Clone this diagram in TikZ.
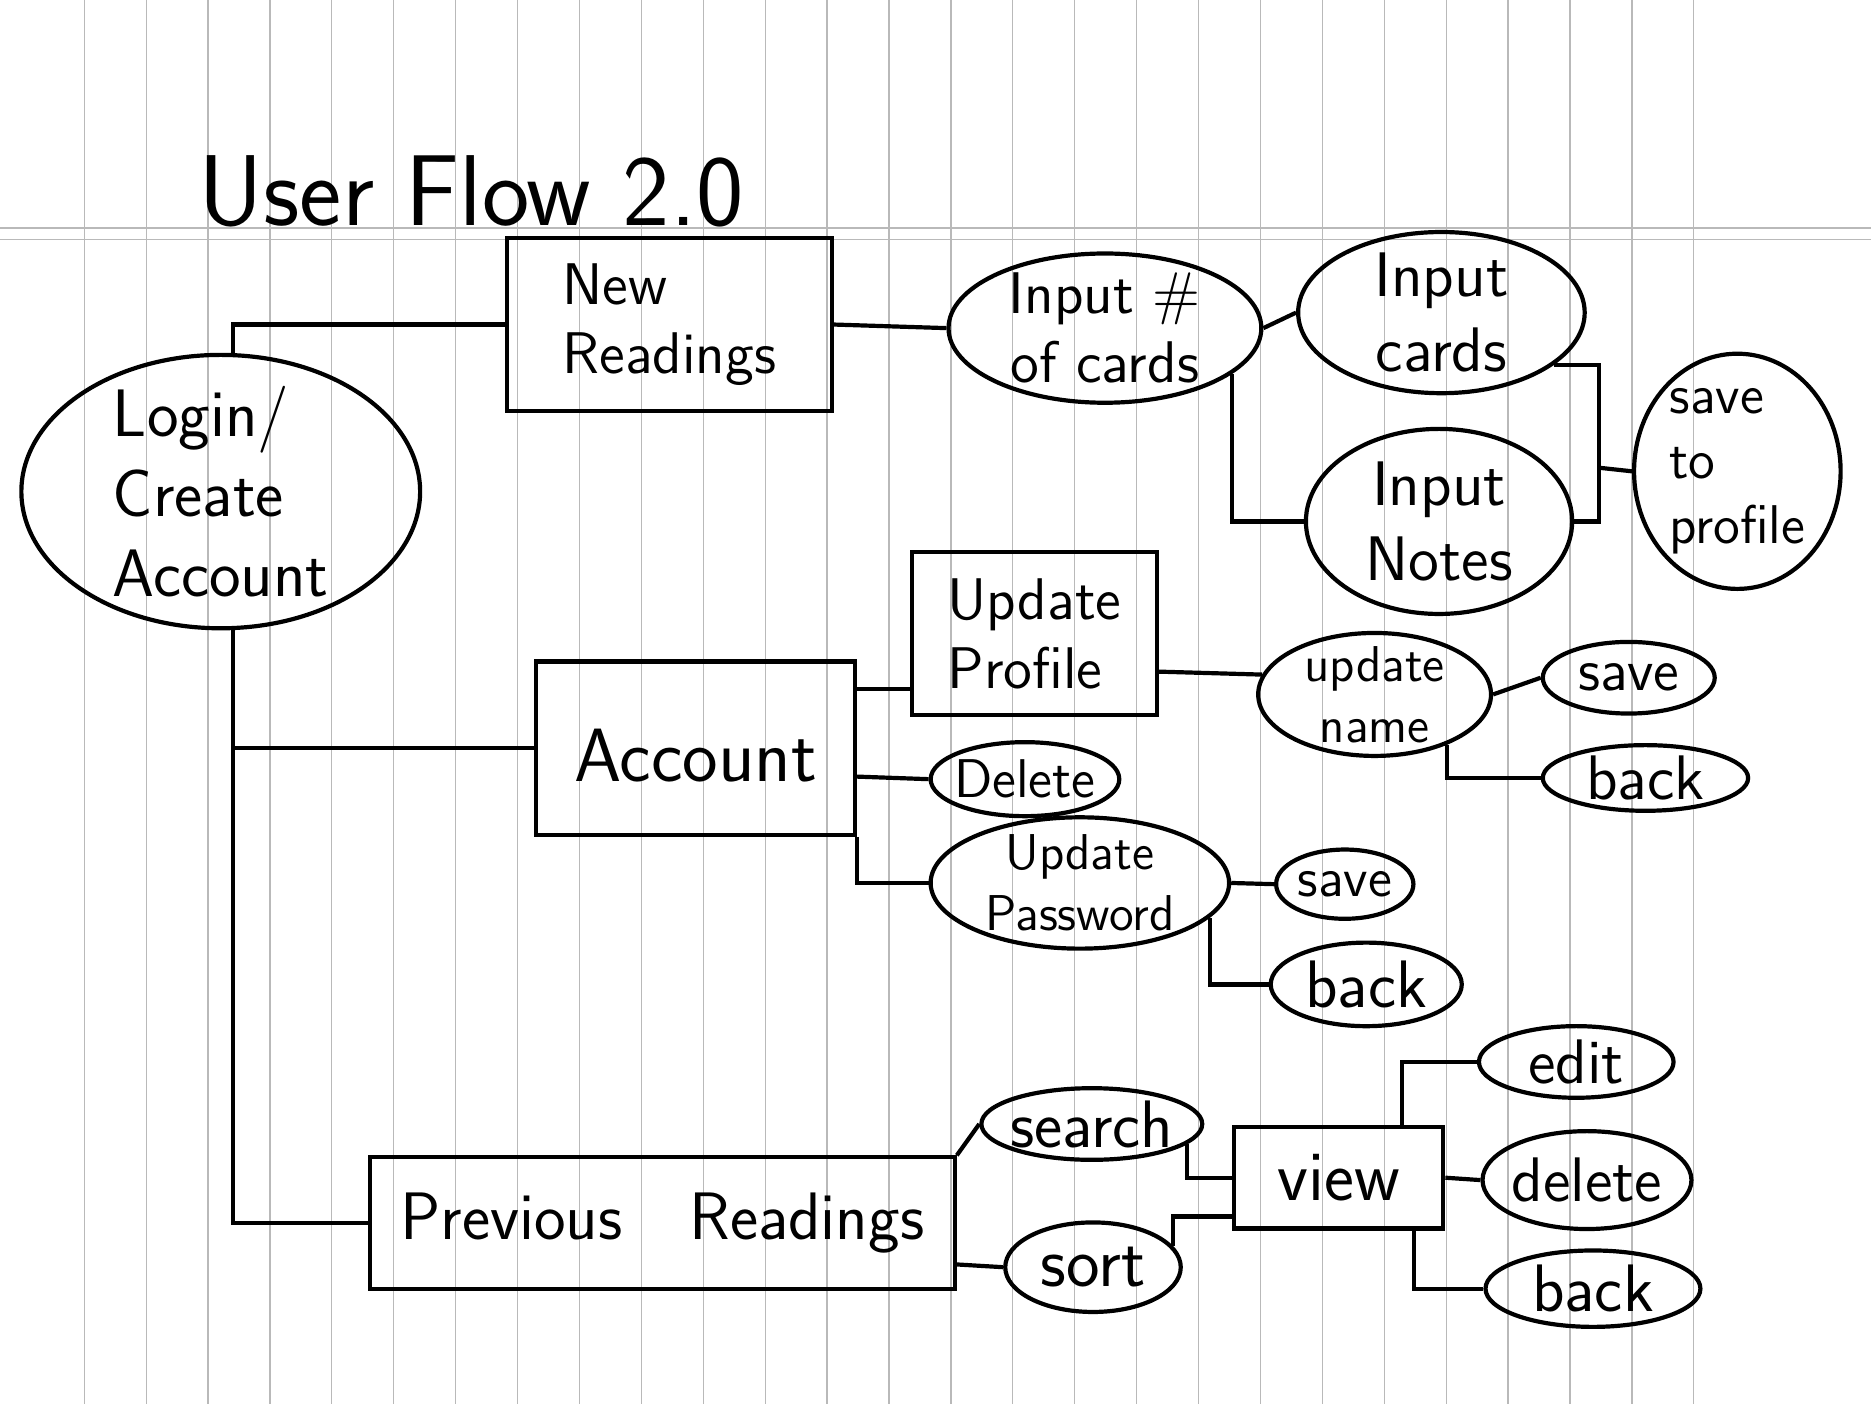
\documentclass[tikz,border=0pt]{standalone}
\usepackage{fontspec}
\usetikzlibrary{shapes.geometric}

\begin{document}
\begin{tikzpicture}[x=0.01cm, y=-0.01cm,
    box/.style={draw, rectangle, line width=1pt, inner sep=0pt, align=left},
    oval/.style={draw, ellipse, line width=1pt, inner sep=-1cm, align=center},
    link/.style={line width=1pt},
    gridline/.style={gray!55, line width=0.3pt}]

    % Лист тетради
    \fill[white] (0,0) rectangle (1568,1177);
    \useasboundingbox (0,0) rectangle (1568,1177);

    % Линовка: вертикальные и две горизонтальные линии
    \foreach \i in {0,...,26} { \draw[gridline] (70.6+51.88*\i,0) -- (70.6+51.88*\i,1177); }
    \foreach \y in {191,201} { \draw[gridline] (0,\y) -- (1568,\y); }

    % Заголовок
    \node[font=\sffamily\fontsize{24}{28}\selectfont] (title) at (395,160) {User Flow 2.0};

    % Вход
    \node[oval, align=left, minimum width=3.34cm, minimum height=2.29cm, font=\sffamily\fontsize{16}{19}\selectfont] (login) at (185,412) {Login/\\Create\\Account};

    % Новые расклады
    \node[box, minimum width=2.72cm, minimum height=1.45cm, font=\sffamily\fontsize{14}{16.5}\selectfont] (new) at (561,272) {New\\Readings};
    \node[oval, minimum width=2.62cm, minimum height=1.25cm, font=\sffamily\fontsize{14}{16.5}\selectfont] (inum) at (926,275) {Input \#\\of cards};
    \node[oval, minimum width=2.40cm, minimum height=1.35cm, font=\sffamily\fontsize{15}{18}\selectfont] (icards) at (1208,262) {Input\\cards};
    \node[oval, minimum width=2.23cm, minimum height=1.55cm, font=\sffamily\fontsize{15}{18}\selectfont] (inotes) at (1206,437) {Input\\Notes};
    \node[oval, align=left, minimum width=1.73cm, minimum height=1.97cm, font=\sffamily\fontsize{13}{15.5}\selectfont] (stp) at (1456,395) {save\\to\\profile};
    \coordinate (join) at (1340,392);

    % Аккаунт
    \node[box, minimum width=2.67cm, minimum height=1.45cm, text height=1.7em, text depth=0.1em, font=\sffamily\fontsize{18}{18}\selectfont] (account) at (583,627) {Account};
    \node[box, minimum width=2.05cm, minimum height=1.37cm, font=\sffamily\fontsize{14}{16.5}\selectfont] (uprof) at (867,531) {Update\\Profile};
    \node[oval, minimum width=1.95cm, minimum height=1.03cm, font=\sffamily\fontsize{12}{14.5}\selectfont] (uname) at (1152,582) {update\\name};
    \node[oval, minimum width=1.44cm, minimum height=0.60cm, font=\sffamily\fontsize{14}{14}\selectfont] (save1) at (1365,568) {save};
    \node[oval, minimum width=1.72cm, minimum height=0.55cm, font=\sffamily\fontsize{15}{15}\selectfont] (back1) at (1379,652) {back};
    \node[oval, minimum width=1.58cm, minimum height=0.62cm, font=\sffamily\fontsize{13}{13}\selectfont] (delacc) at (859,653) {Delete};
    \node[oval, minimum width=2.50cm, minimum height=1.10cm, font=\sffamily\fontsize{12}{14.5}\selectfont] (upw) at (905,740) {Update\\Password};
    \node[oval, minimum width=1.15cm, minimum height=0.58cm, font=\sffamily\fontsize{13}{13}\selectfont] (save2) at (1127,741) {save};
    \node[oval, minimum width=1.60cm, minimum height=0.70cm, font=\sffamily\fontsize{16}{16}\selectfont] (back2) at (1145,825) {back};

    % Прошлые расклады
    \node[box, minimum width=4.90cm, minimum height=1.10cm, font=\sffamily\fontsize{16}{16}\selectfont] (prev) at (555,1025) {Previous\quad Readings};
    \node[oval, minimum width=1.85cm, minimum height=0.60cm, font=\sffamily\fontsize{16}{16}\selectfont] (search) at (915,942) {search};
    \node[oval, minimum width=1.47cm, minimum height=0.75cm, font=\sffamily\fontsize{17}{17}\selectfont] (sort) at (916,1062) {sort};
    \node[box, minimum width=1.75cm, minimum height=0.85cm, font=\sffamily\fontsize{17}{17}\selectfont] (view) at (1122,987) {view};
    \node[oval, minimum width=1.63cm, minimum height=0.60cm, font=\sffamily\fontsize{15}{15}\selectfont] (edit) at (1321,890) {edit};
    \node[oval, minimum width=1.75cm, minimum height=0.82cm, font=\sffamily\fontsize{15}{15}\selectfont] (delread) at (1330,989) {delete};
    \node[oval, minimum width=1.80cm, minimum height=0.64cm, font=\sffamily\fontsize{16}{16}\selectfont] (back3) at (1335,1080) {back};

    % Связи
    \draw[link] (login.85) |- (new.west);
    \draw[link] (login.-85) |- (account.west);
    \draw[link] (login.-85) |- (prev.west);

    \draw[link] (new.east) -- (inum.west);
    \draw[link] (inum.east) -- (icards.west);
    \draw[link] (inum.-20) |- (inotes.west);
    \draw[link] (icards.-25) -| (join) |- (inotes.east);
    \draw[link] (join) -- (stp.west);

    \draw[link] (account.20) -- (account.20 -| uprof.west);
    \draw[link] (account.-10) -- (delacc.west);
    \draw[link] (account.south east) |- (upw.west);
    \draw[link] (uprof.-17) -- (uname.170);
    \draw[link] (uname.east) -- (save1.west);
    \draw[link] (uname.-35) |- (back1.west);
    \draw[link] (upw.east) -- (save2.west);
    \draw[link] (upw.-15) |- (back2.west);

    \draw[link] (prev.north east) -- (search.west);
    \draw[link] (prev.-8) -- (sort.west);
    \draw[link] (search.-12) |- (view.west);
    \draw[link] (sort.15) |- (view.200);
    \draw[link] (view.40) |- (edit.west);
    \draw[link] (view.east) -- (delread.west);
    \draw[link] (view.-35) |- (back3.west);
\end{tikzpicture}
\end{document}
